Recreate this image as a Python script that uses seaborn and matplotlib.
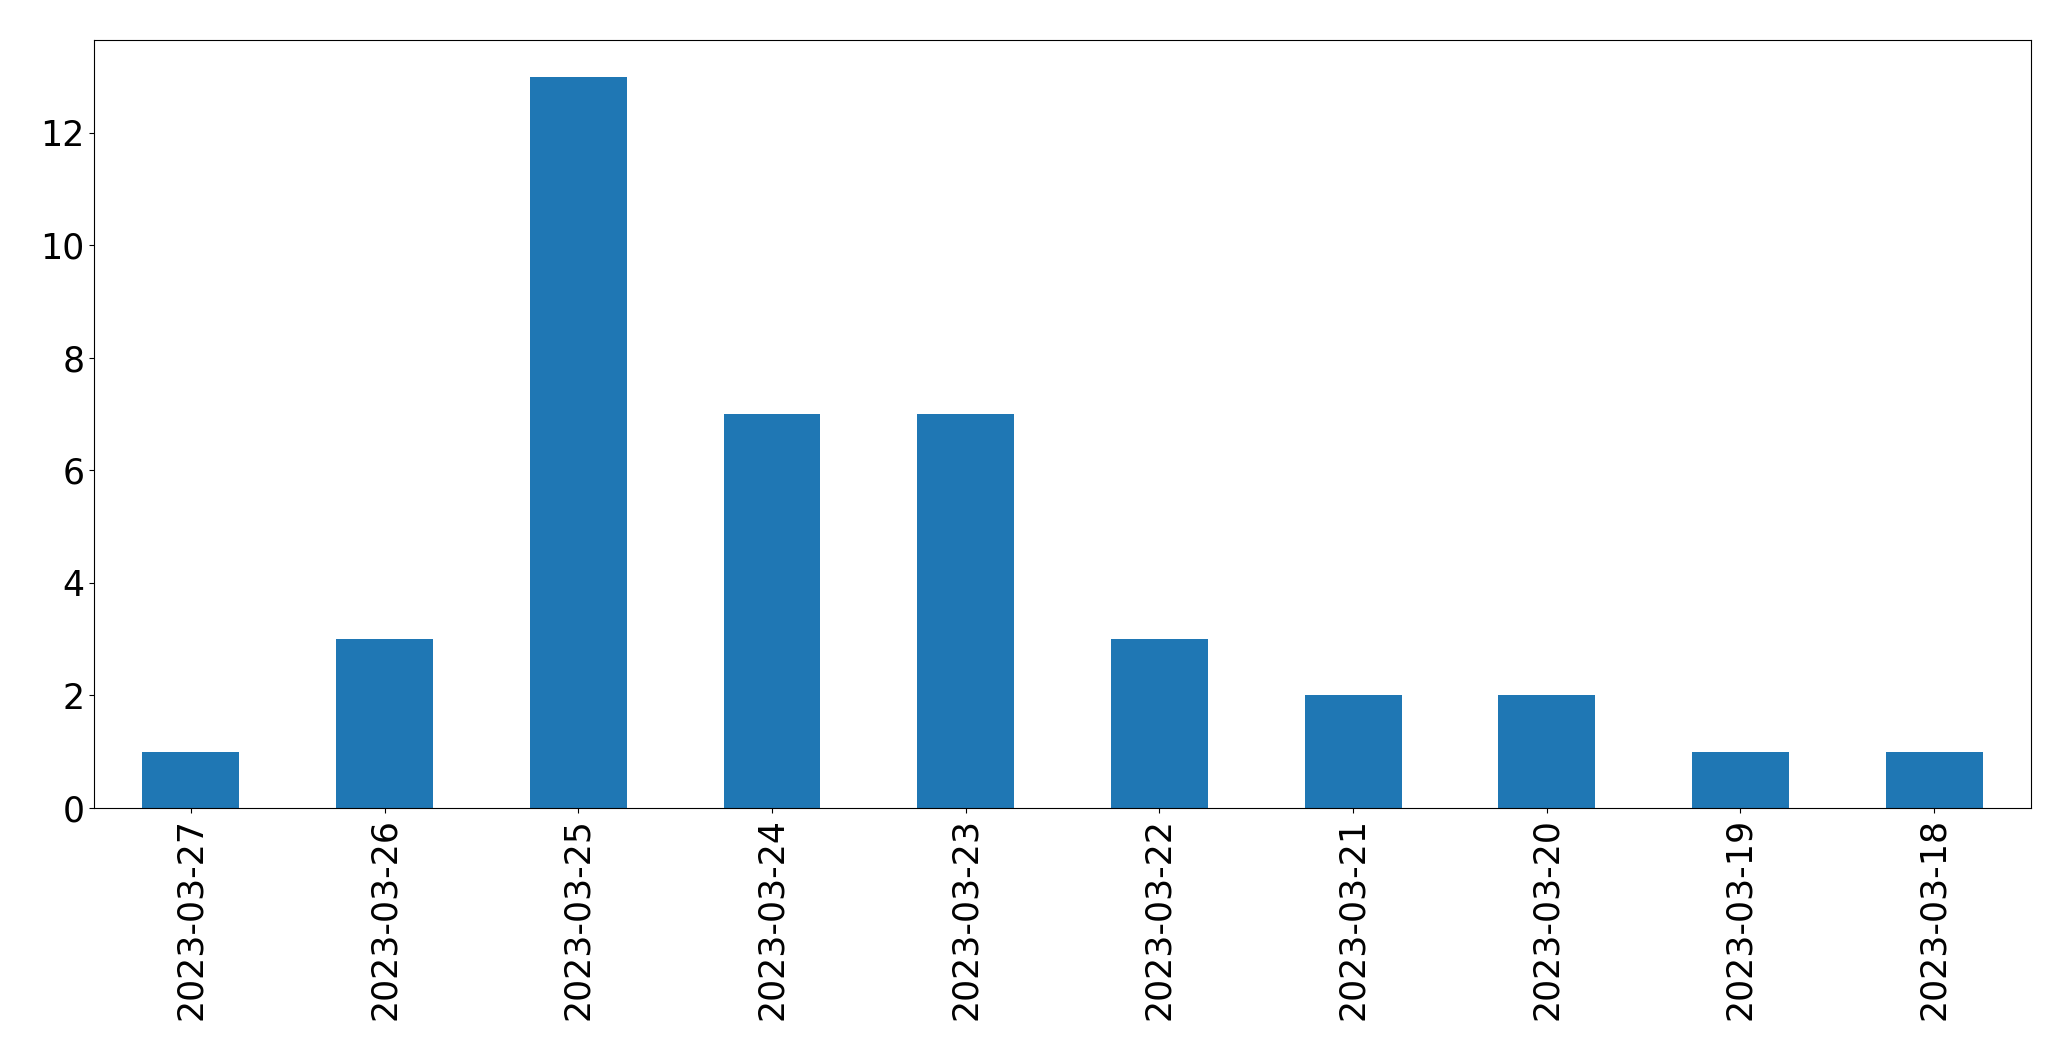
import matplotlib
matplotlib.use("Agg")
import matplotlib.pyplot as plt
import seaborn as sns
import pandas as pd

dates = ['2023-03-27', '2023-03-26', '2023-03-25', '2023-03-24', '2023-03-23',
         '2023-03-22', '2023-03-21', '2023-03-20', '2023-03-19', '2023-03-18']
counts = [1, 3, 13, 7, 7, 3, 2, 2, 1, 1]

df = pd.DataFrame({'date': dates, 'count': counts})

plt.rcParams['font.family'] = ['DejaVu Sans']

fig, ax = plt.subplots(figsize=(20.71, 10.61), dpi=100)
sns.barplot(data=df, x='date', y='count', order=dates, color='#1f77b4',
            saturation=1, width=0.5, linewidth=0, ax=ax)

ax.set_xlim(-0.5, len(dates) - 0.5)
ax.set_ylim(0, max(counts) * 1.05)
ax.set_xlabel('')
ax.set_ylabel('')
ax.tick_params(axis='both', labelsize=25)
ax.tick_params(axis='x', labelrotation=90)

fig.subplots_adjust(left=0.0454, right=0.9807, top=0.9623, bottom=0.2385)
fig.savefig('out.png', dpi=100)
